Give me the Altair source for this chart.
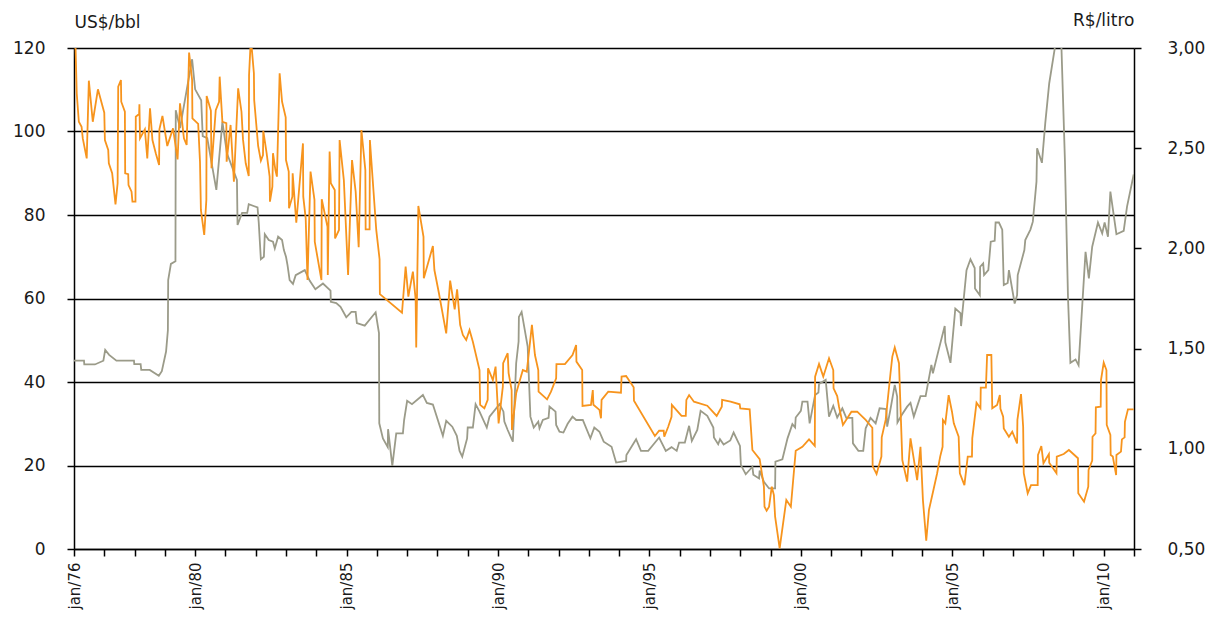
import altair as alt
import pandas as pd

# Gray series: US$/bbl (left axis)
gray_year = [1976.0, 1976.33, 1976.34, 1976.69, 1976.97, 1977.03, 1977.16, 1977.4, 1977.98, 1977.99,
             1978.2, 1978.22, 1978.5, 1978.8, 1978.9, 1979.04, 1979.1, 1979.11, 1979.2, 1979.35,
             1979.36, 1979.5, 1979.9, 1980.0, 1980.2, 1980.25, 1980.4, 1980.7, 1980.9, 1981.05,
             1981.38, 1981.4, 1981.55, 1981.72, 1981.77, 1982.06, 1982.1, 1982.17, 1982.27, 1982.3,
             1982.43, 1982.57, 1982.63, 1982.74, 1982.87, 1982.93, 1983.0, 1983.05, 1983.12, 1983.23,
             1983.32, 1983.62, 1983.78, 1983.97, 1984.22, 1984.47, 1984.48, 1984.66, 1984.8, 1984.99,
             1985.16, 1985.3, 1985.34, 1985.6, 1985.96, 1986.07, 1986.08, 1986.2, 1986.36, 1986.37,
             1986.51, 1986.64, 1986.86, 1986.9, 1987.0, 1987.16, 1987.52, 1987.65, 1987.85, 1988.18,
             1988.29, 1988.49, 1988.64, 1988.73, 1988.82, 1988.98, 1989.0, 1989.17, 1989.26, 1989.39,
             1989.63, 1989.72, 1990.05, 1990.18, 1990.21, 1990.32, 1990.49, 1990.6, 1990.68, 1990.69,
             1990.78, 1990.98, 1991.07, 1991.18, 1991.33, 1991.37, 1991.48, 1991.67, 1991.7, 1991.9,
             1991.92, 1992.03, 1992.16, 1992.3, 1992.46, 1992.58, 1992.8, 1993.05, 1993.18, 1993.35,
             1993.49, 1993.75, 1993.9, 1994.23, 1994.24, 1994.56, 1994.72, 1994.96, 1995.32, 1995.54,
             1995.73, 1995.9, 1995.98, 1996.17, 1996.31, 1996.4, 1996.58, 1996.69, 1996.91, 1997.11,
             1997.13, 1997.27, 1997.33, 1997.45, 1997.67, 1997.78, 1997.99, 1998.02, 1998.18, 1998.4,
             1998.43, 1998.62, 1998.64, 1998.78, 1998.95, 1999.15, 1999.16, 1999.39, 1999.56, 1999.72,
             1999.81, 1999.83, 2000.0, 2000.05, 2000.22, 2000.29, 2000.47, 2000.58, 2000.6, 2000.82,
             2000.93, 2001.07, 2001.2, 2001.37, 2001.5, 2001.7, 2001.72, 2001.9, 2002.06, 2002.14,
             2002.3, 2002.47, 2002.6, 2002.82, 2002.85, 2002.96, 2003.1, 2003.18, 2003.19, 2003.33,
             2003.51, 2003.62, 2003.73, 2003.95, 2004.12, 2004.31, 2004.36, 2004.55, 2004.75, 2004.77,
             2004.94, 2005.1, 2005.27, 2005.29, 2005.47, 2005.6, 2005.74, 2005.75, 2005.91, 2005.92,
             2006.02, 2006.05, 2006.19, 2006.27, 2006.4, 2006.43, 2006.54, 2006.65, 2006.7, 2006.83,
             2006.87, 2007.06, 2007.14, 2007.16, 2007.38, 2007.41, 2007.58, 2007.66, 2007.78, 2007.8,
             2007.96, 2008.07, 2008.2, 2008.38, 2008.45, 2008.55, 2008.72, 2008.82, 2008.9, 2009.07,
             2009.17, 2009.4, 2009.51, 2009.62, 2009.81, 2009.95, 2010.03, 2010.14, 2010.22, 2010.42,
             2010.66, 2010.77, 2010.99]
gray_usd = [45.1, 45.1, 44.2, 44.2, 45.1, 47.7, 46.5, 45.1, 45.1, 44.3,
            44.3, 42.9, 42.9, 41.5, 42.6, 47.3, 52.4, 64.4, 68.3, 68.9,
            105.1, 100.8, 117.3, 110.1, 107.5, 98.9, 98.4, 86.0, 102.3, 94.8,
            88.4, 77.6, 80.5, 80.5, 82.6, 81.8, 78.2, 69.4, 70.0, 75.4,
            74.0, 73.6, 72.0, 74.8, 74.0, 71.6, 70.0, 68.0, 64.4, 63.5,
            65.6, 66.8, 64.3, 62.2, 63.6, 61.9, 59.2, 58.9, 58.0, 55.5,
            56.8, 56.8, 54.1, 53.5, 56.7, 51.7, 30.1, 26.5, 24.4, 28.7,
            19.9, 27.7, 27.7, 30.9, 35.5, 34.7, 36.9, 35.0, 34.6, 27.1,
            30.7, 29.3, 27.1, 23.5, 22.1, 26.5, 29.1, 29.1, 34.7, 32.9,
            29.1, 31.7, 34.7, 32.9, 30.5, 28.5, 25.7, 44.5, 49.7, 55.6,
            56.8, 48.5, 31.7, 29.1, 30.5, 28.9, 30.9, 31.4, 34.1, 32.9,
            29.7, 28.1, 27.9, 30.0, 31.7, 30.9, 30.9, 26.5, 29.1, 28.1,
            25.7, 24.5, 20.7, 21.1, 22.5, 26.3, 23.5, 23.5, 26.7, 23.5,
            24.4, 23.5, 25.5, 25.5, 29.5, 25.9, 28.5, 33.1, 31.9, 29.1,
            26.7, 25.1, 26.3, 25.0, 26.0, 27.9, 24.7, 20.1, 17.9, 19.7,
            17.8, 16.9, 18.8, 16.1, 14.5, 14.5, 20.9, 21.5, 26.5, 29.9,
            29.1, 31.5, 33.1, 35.3, 35.3, 30.1, 36.9, 37.5, 39.5, 40.5,
            31.7, 34.3, 31.5, 33.7, 31.4, 31.4, 25.3, 23.5, 23.5, 28.9,
            31.4, 30.1, 33.7, 33.5, 29.3, 33.5, 39.3, 36.5, 30.3, 32.1,
            34.1, 35.0, 31.7, 36.6, 36.6, 44.1, 42.1, 47.7, 53.4, 49.5,
            44.6, 57.6, 56.5, 53.4, 66.8, 69.4, 67.3, 62.4, 60.8, 67.6,
            68.4, 65.6, 66.8, 73.6, 73.8, 78.2, 78.2, 76.5, 63.2, 63.7,
            66.8, 58.8, 60.8, 65.6, 71.6, 74.0, 76.5, 78.4, 88.0, 96.0,
            92.5, 102.0, 111.5, 119.7, 133.0, 133.0, 92.8, 60.4, 44.6, 45.4,
            44.0, 71.2, 64.8, 72.4, 78.2, 75.6, 78.2, 74.8, 85.6, 75.4,
            76.2, 82.0, 89.7]

# Orange series: R$/litro (right axis)
orange_year = [1976.0, 1976.09, 1976.16, 1976.25, 1976.29, 1976.42, 1976.49, 1976.62, 1976.79, 1977.0,
               1977.02, 1977.13, 1977.15, 1977.26, 1977.37, 1977.44, 1977.46, 1977.55, 1977.56, 1977.68,
               1977.69, 1977.79, 1977.8, 1977.9, 1977.93, 1978.03, 1978.04, 1978.15, 1978.16, 1978.18,
               1978.34, 1978.42, 1978.51, 1978.59, 1978.7, 1978.81, 1978.82, 1978.92, 1979.08, 1979.27,
               1979.42, 1979.5, 1979.63, 1979.72, 1979.8, 1979.9, 1979.91, 1980.1, 1980.16, 1980.19,
               1980.3, 1980.37, 1980.38, 1980.52, 1980.54, 1980.68, 1980.79, 1980.81, 1980.9, 1981.03,
               1981.04, 1981.17, 1981.28, 1981.42, 1981.53, 1981.58, 1981.67, 1981.77, 1981.78, 1981.84,
               1981.94, 1981.95, 1982.08, 1982.17, 1982.24, 1982.25, 1982.36, 1982.46, 1982.47, 1982.55,
               1982.57, 1982.65, 1982.7, 1982.79, 1982.87, 1982.99, 1983.0, 1983.09, 1983.1, 1983.21,
               1983.22, 1983.34, 1983.56, 1983.57, 1983.65, 1983.71, 1983.81, 1983.94, 1983.95, 1984.17,
               1984.18, 1984.37, 1984.38, 1984.44, 1984.48, 1984.61, 1984.62, 1984.75, 1984.77, 1984.91,
               1985.05, 1985.18, 1985.3, 1985.4, 1985.49, 1985.62, 1985.63, 1985.76, 1985.77, 1985.98,
               1986.09, 1986.1, 1986.83, 1986.95, 1987.04, 1987.19, 1987.28, 1987.3, 1987.37, 1987.54,
               1987.55, 1987.85, 1987.9, 1988.05, 1988.29, 1988.42, 1988.57, 1988.65, 1988.75, 1988.84,
               1988.95, 1989.06, 1989.17, 1989.39, 1989.41, 1989.55, 1989.66, 1989.67, 1989.83, 1989.92,
               1990.02, 1990.16, 1990.17, 1990.32, 1990.35, 1990.45, 1990.46, 1990.6, 1990.82, 1990.95,
               1991.12, 1991.22, 1991.33, 1991.34, 1991.62, 1991.75, 1991.92, 1991.93, 1992.21, 1992.46,
               1992.58, 1992.59, 1992.78, 1992.79, 1993.07, 1993.13, 1993.15, 1993.35, 1993.4, 1993.42,
               1993.64, 1994.06, 1994.08, 1994.23, 1994.48, 1994.49, 1995.18, 1995.32, 1995.47, 1995.49,
               1995.62, 1995.73, 1995.74, 1996.06, 1996.2, 1996.22, 1996.31, 1996.47, 1996.91, 1997.22,
               1997.39, 1997.4, 1997.68, 1997.98, 1998.0, 1998.31, 1998.4, 1998.64, 1998.73, 1998.78,
               1998.8, 1998.87, 1998.95, 1999.04, 1999.11, 1999.15, 1999.3, 1999.52, 1999.67, 1999.83,
               2000.05, 2000.27, 2000.46, 2000.47, 2000.6, 2000.74, 2000.93, 2001.07, 2001.08, 2001.2,
               2001.26, 2001.39, 2001.67, 2001.86, 2002.14, 2002.36, 2002.37, 2002.5, 2002.66, 2002.67,
               2002.8, 2002.96, 2003.02, 2003.1, 2003.24, 2003.35, 2003.51, 2003.62, 2003.84, 2003.95,
               2004.03, 2004.14, 2004.23, 2004.39, 2004.5, 2004.6, 2004.68, 2004.69, 2004.77, 2004.88,
               2004.99, 2005.05, 2005.21, 2005.25, 2005.4, 2005.51, 2005.65, 2005.66, 2005.8, 2005.93,
               2005.94, 2006.11, 2006.15, 2006.29, 2006.32, 2006.48, 2006.57, 2006.59, 2006.68, 2006.7,
               2006.87, 2006.98, 2007.14, 2007.15, 2007.27, 2007.34, 2007.36, 2007.49, 2007.6, 2007.82,
               2007.83, 2007.94, 2008.01, 2008.19, 2008.2, 2008.44, 2008.45, 2008.68, 2008.85, 2009.15,
               2009.16, 2009.35, 2009.49, 2009.5, 2009.62, 2009.63, 2009.73, 2009.74, 2009.9, 2009.91,
               2010.0, 2010.09, 2010.1, 2010.22, 2010.23, 2010.3, 2010.41, 2010.42, 2010.57, 2010.6,
               2010.69, 2010.7, 2010.8, 2010.99]
orange_brl = [3.3, 2.774, 2.632, 2.607, 2.549, 2.449, 2.837, 2.632, 2.794, 2.677,
              2.541, 2.491, 2.425, 2.375, 2.22, 2.325, 2.807, 2.84, 2.732, 2.682,
              2.375, 2.37, 2.316, 2.283, 2.233, 2.233, 2.657, 2.671, 2.719, 2.549,
              2.594, 2.449, 2.699, 2.541, 2.475, 2.416, 2.594, 2.661, 2.511, 2.599,
              2.444, 2.724, 2.549, 2.516, 2.977, 2.84, 2.649, 2.621, 2.433, 2.192,
              2.067, 2.242, 2.76, 2.687, 2.4, 2.69, 2.732, 2.857, 2.632, 2.625,
              2.433, 2.616, 2.333, 2.799, 2.682, 2.544, 2.425, 2.361, 2.865, 3.05,
              2.874, 2.74, 2.511, 2.438, 2.466, 2.587, 2.475, 2.358, 2.233, 2.308,
              2.475, 2.391, 2.358, 2.874, 2.732, 2.654, 2.441, 2.383, 2.2, 2.258,
              2.375, 2.128, 2.524, 2.258, 2.15, 1.842, 2.383, 2.242, 2.033, 1.842,
              2.245, 2.108, 1.867, 2.483, 2.325, 2.291, 2.05, 2.092, 2.541, 2.341,
              1.867, 2.441, 2.283, 2.006, 2.591, 2.391, 2.095, 2.095, 2.541, 2.092,
              1.946, 1.772, 1.679, 1.909, 1.759, 1.884, 1.748, 1.506, 2.212, 2.058,
              1.851, 2.012, 1.892, 1.776, 1.576, 1.839, 1.696, 1.796, 1.618, 1.568,
              1.543, 1.593, 1.534, 1.393, 1.219, 1.202, 1.244, 1.402, 1.343, 1.41,
              1.127, 1.31, 1.427, 1.477, 1.377, 1.293, 1.094, 1.277, 1.393, 1.385,
              1.618, 1.468, 1.393, 1.285, 1.247, 1.285, 1.352, 1.423, 1.423, 1.468,
              1.518, 1.435, 1.393, 1.214, 1.219, 1.293, 1.22, 1.194, 1.152, 1.244,
              1.285, 1.28, 1.36, 1.363, 1.307, 1.24, 1.064, 1.09, 1.09, 1.06,
              1.11, 1.16, 1.219, 1.164, 1.164, 1.244, 1.268, 1.235, 1.215, 1.164,
              1.21, 1.244, 1.235, 1.222, 1.202, 1.197, 0.994, 0.948, 0.861, 0.811,
              0.711, 0.691, 0.711, 0.811, 0.769, 0.661, 0.503, 0.745, 0.711, 0.99,
              1.01, 1.047, 1.015, 1.36, 1.423, 1.36, 1.452, 1.393, 1.302, 1.263,
              1.21, 1.119, 1.185, 1.185, 1.144, 1.105, 0.914, 0.874, 0.961, 1.057,
              1.144, 1.377, 1.46, 1.506, 1.427, 0.944, 0.836, 1.052, 0.844, 1.01,
              0.745, 0.541, 0.695, 0.803, 0.878, 0.961, 1.01, 1.144, 1.127, 1.268,
              1.185, 1.127, 1.06, 0.878, 0.819, 0.961, 0.961, 1.052, 1.23, 1.202,
              1.305, 1.305, 1.468, 1.468, 1.202, 1.219, 1.268, 1.2, 1.16, 1.102,
              1.06, 1.085, 1.027, 1.144, 1.273, 1.11, 0.878, 0.778, 0.819, 0.819,
              0.969, 1.014, 0.928, 0.974, 0.93, 0.878, 0.961, 0.974, 0.994, 0.953,
              0.778, 0.736, 0.811, 0.894, 0.941, 1.06, 1.077, 1.207, 1.21, 1.343,
              1.43, 1.393, 1.119, 1.069, 0.969, 0.961, 0.869, 0.969, 0.986, 1.047,
              1.057, 1.135, 1.197, 1.197]

left_ticks = [0, 20, 40, 60, 80, 100, 120]
right_ticks = [0.5, 1.0, 1.5, 2.0, 2.5, 3.0]
year_ticks = list(range(1976, 2012))

gray_df = pd.DataFrame({"year": gray_year, "usd": gray_usd})
orange_df = pd.DataFrame({"year": orange_year, "brl": orange_brl})

FONT = "DejaVu Sans"
TEXT = "#1a1a1a"

x_enc = alt.X(
    "year:Q",
    scale=alt.Scale(domain=[1976, 2011], nice=False, zero=False),
    axis=alt.Axis(
        values=year_ticks,
        labelExpr="((datum.value == 1976 || datum.value % 5 == 0) && datum.value < 2011) ? 'jan/' + slice(toString(datum.value), 2) : ''",
        labelAngle=-90,
        labelOverlap=False,
        labelFlush=False,
        grid=False,
        domainColor="black",
        domainWidth=1.5,
        tickColor="black",
        tickWidth=1.5,
        tickSize=7,
        labelPadding=6,
        labelFontSize=15,
        labelColor=TEXT,
        labelFont=FONT,
        title=None,
    ),
)

gray = alt.Chart(gray_df).mark_line(color="#9b9b89", strokeWidth=1.8, clip=True).encode(
    x=x_enc,
    y=alt.Y(
        "usd:Q",
        scale=alt.Scale(domain=[0, 120], nice=False, zero=True),
        axis=alt.Axis(
            values=left_ticks,
            grid=True,
            gridColor="black",
            gridWidth=1.5,
            domainColor="black",
            domainWidth=1.5,
            tickColor="black",
            tickWidth=1.5,
            tickSize=7,
            labelPadding=22,
            labelFontSize=17,
            labelColor=TEXT,
            labelFont=FONT,
            title="US$/bbl",
            titleAngle=0,
            titleX=0,
            titleY=-21,
            titleAlign="left",
            titleBaseline="alphabetic",
            titleFontWeight="normal",
            titleFontSize=17,
            titleFont=FONT,
            titleColor=TEXT,
        ),
    ),
)

orange = alt.Chart(orange_df).mark_line(color="#f7941d", strokeWidth=1.8, clip=True).encode(
    x=x_enc,
    y=alt.Y(
        "brl:Q",
        scale=alt.Scale(domain=[0.5, 3.0], nice=False, zero=False),
        axis=alt.Axis(
            orient="right",
            values=right_ticks,
            labelExpr="replace(format(datum.value, '.2f'), '.', ',')",
            grid=False,
            domainColor="black",
            domainWidth=1.5,
            tickColor="black",
            tickWidth=1.5,
            tickSize=7,
            labelPadding=26,
            labelFontSize=17,
            labelColor=TEXT,
            labelFont=FONT,
            title="R$/litro",
            titleAngle=0,
            titleX=0,
            titleY=-23,
            titleAlign="right",
            titleBaseline="alphabetic",
            titleFontWeight="normal",
            titleFontSize=17,
            titleFont=FONT,
            titleColor=TEXT,
        ),
    ),
)

chart = (
    alt.layer(gray, orange)
    .resolve_scale(y="independent")
    .properties(
        width=1060,
        height=501,
        autosize=alt.AutoSizeParams(type="none"),
        padding={"left": 66, "top": 40, "right": 74, "bottom": 62},
        background="white",
    )
    .configure_view(stroke="transparent")
)

chart.save("out.html", embed_options={"renderer": "svg", "actions": False})
